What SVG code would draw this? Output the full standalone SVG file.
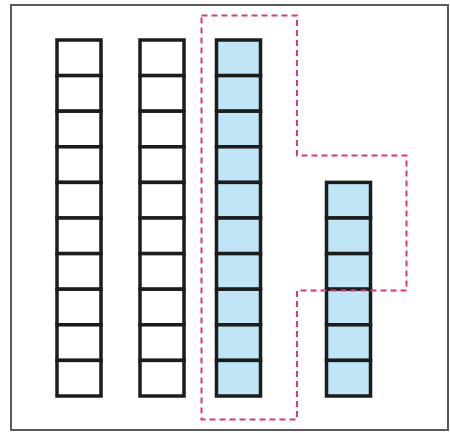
<svg xmlns="http://www.w3.org/2000/svg" width="450" height="433" viewBox="0 0 450 433">
  <defs>
    <style>
      .frame { fill: #ffffff; stroke: #5a5a5a; stroke-width: 2; }
      .cell { stroke: #1c1c1c; stroke-width: 3.5; }
      .white { fill: #ffffff; }
      .blue { fill: #bfe5f6; }
      .dash { fill: none; stroke: #d63a82; stroke-width: 2; stroke-dasharray: 6 4; }
    </style>
    <g id="cellW"><rect class="cell white" x="0" y="0" width="44" height="35.6"/></g>
    <g id="cellB"><rect class="cell blue" x="0" y="0" width="44" height="35.6"/></g>
  </defs>
  <rect class="frame" x="11" y="5" width="437" height="425"/>
  <g id="column1">
    <use href="#cellW" x="57" y="40"/>
    <use href="#cellW" x="57" y="75.6"/>
    <use href="#cellW" x="57" y="111.2"/>
    <use href="#cellW" x="57" y="146.8"/>
    <use href="#cellW" x="57" y="182.4"/>
    <use href="#cellW" x="57" y="218"/>
    <use href="#cellW" x="57" y="253.6"/>
    <use href="#cellW" x="57" y="289.2"/>
    <use href="#cellW" x="57" y="324.8"/>
    <use href="#cellW" x="57" y="360.4"/>
  </g>
  <g id="column2">
    <use href="#cellW" x="140" y="40"/>
    <use href="#cellW" x="140" y="75.6"/>
    <use href="#cellW" x="140" y="111.2"/>
    <use href="#cellW" x="140" y="146.8"/>
    <use href="#cellW" x="140" y="182.4"/>
    <use href="#cellW" x="140" y="218"/>
    <use href="#cellW" x="140" y="253.6"/>
    <use href="#cellW" x="140" y="289.2"/>
    <use href="#cellW" x="140" y="324.8"/>
    <use href="#cellW" x="140" y="360.4"/>
  </g>
  <g id="column3">
    <use href="#cellB" x="216.5" y="40"/>
    <use href="#cellB" x="216.5" y="75.6"/>
    <use href="#cellB" x="216.5" y="111.2"/>
    <use href="#cellB" x="216.5" y="146.8"/>
    <use href="#cellB" x="216.5" y="182.4"/>
    <use href="#cellB" x="216.5" y="218"/>
    <use href="#cellB" x="216.5" y="253.6"/>
    <use href="#cellB" x="216.5" y="289.2"/>
    <use href="#cellB" x="216.5" y="324.8"/>
    <use href="#cellB" x="216.5" y="360.4"/>
  </g>
  <g id="column4">
    <use href="#cellB" x="326.5" y="182.4"/>
    <use href="#cellB" x="326.5" y="218"/>
    <use href="#cellB" x="326.5" y="253.6"/>
    <use href="#cellB" x="326.5" y="289.2"/>
    <use href="#cellB" x="326.5" y="324.8"/>
    <use href="#cellB" x="326.5" y="360.4"/>
  </g>
  <g id="connectors">
    <path class="dash" d="M201.5 15.5 H297 V155.5 H406.5 V290.5 H297 V419.5 H201.5 Z"/>
  </g>
</svg>
